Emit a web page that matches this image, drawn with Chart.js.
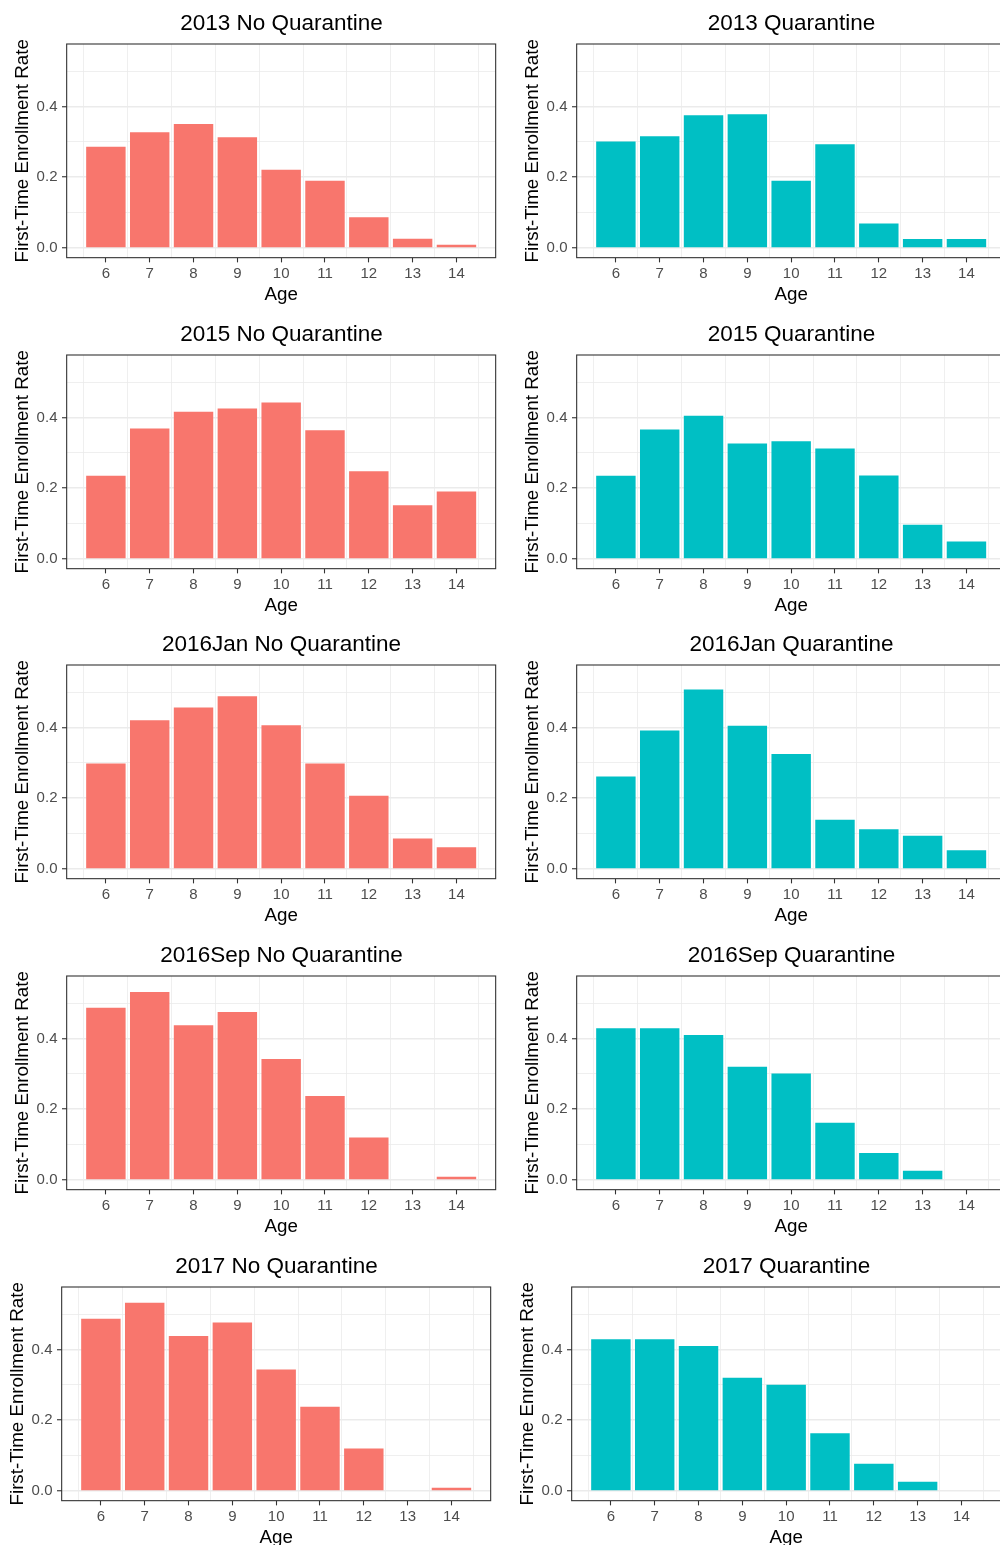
<!DOCTYPE html>
<html>
<head>
<meta charset="utf-8">
<title>First-Time Enrollment Rate by Age</title>
<script src="https://cdn.jsdelivr.net/npm/chart.js@4.4.1/dist/chart.umd.min.js"></script>
<style>
  html, body { margin: 0; padding: 0; background: #ffffff; }
  body { width: 1000px; height: 1545px; overflow: hidden; position: relative; }
  canvas { position: absolute; }
</style>
</head>
<body>
<script>
// ---- data -------------------------------------------------------------
const ages = [6, 7, 8, 9, 10, 11, 12, 13, 14];

const rate2013NoQ    = [0.286, 0.327, 0.350, 0.313, 0.221, 0.190, 0.087, 0.026, 0.009];
const rate2013Q      = [0.301, 0.316, 0.375, 0.378, 0.190, 0.293, 0.069, 0.025, 0.025];
const rate2015NoQ    = [0.235, 0.369, 0.416, 0.425, 0.442, 0.364, 0.248, 0.152, 0.191];
const rate2015Q      = [0.235, 0.366, 0.405, 0.326, 0.333, 0.312, 0.236, 0.097, 0.049];
const rate2016JanNoQ = [0.298, 0.420, 0.456, 0.488, 0.406, 0.298, 0.207, 0.086, 0.061];
const rate2016JanQ   = [0.261, 0.391, 0.507, 0.405, 0.325, 0.139, 0.112, 0.094, 0.053];
const rate2016SepNoQ = [0.487, 0.531, 0.437, 0.475, 0.342, 0.237, 0.120, null,  0.009];
const rate2016SepQ   = [0.429, 0.429, 0.410, 0.320, 0.301, 0.162, 0.076, 0.026, null ];
const rate2017NoQ    = [0.487, 0.532, 0.438, 0.476, 0.343, 0.238, 0.120, null,  0.009];
const rate2017Q      = [0.429, 0.429, 0.410, 0.320, 0.300, 0.163, 0.077, 0.026, null ];

const panelTitles = [
  '2013 No Quarantine', '2013 Quarantine',
  '2015 No Quarantine', '2015 Quarantine',
  '2016Jan No Quarantine', '2016Jan Quarantine',
  '2016Sep No Quarantine', '2016Sep Quarantine',
  '2017 No Quarantine', '2017 Quarantine'
];
const panelValues = [
  rate2013NoQ, rate2013Q,
  rate2015NoQ, rate2015Q,
  rate2016JanNoQ, rate2016JanQ,
  rate2016SepNoQ, rate2016SepQ,
  rate2017NoQ, rate2017Q
];

const yMajorTicks = [0, 0.2, 0.4];
const yMinorTicks = [0.1, 0.3, 0.5];
const xMinorTicks = [5.5, 6.5, 7.5, 8.5, 9.5, 10.5, 11.5, 12.5, 13.5, 14.5];

const xTitle = 'Age';
const yTitle = 'First-Time Enrollment Rate';

// shared value range (0 .. 0.549) and bar span, each padded by 5%
const yRange = [0, 0.549];
const xRange = [5.55, 14.45];

// ---- styling ------------------------------------------------------------
const FONT = "'Liberation Sans', Arial, Helvetica, sans-serif";
const FILL_NO_Q = '#F8766D';
const FILL_Q = '#00BFC4';

const CANVAS_W = 563;
const CANVAS_H = 311;
const Y_AXIS_W = 66.67;          // left axis band
const RIGHT_PAD_W = 67.33;       // mirror band so the title centres on the panel
const X_AXIS_H = CANVAS_H - 257.67;

const pad = (r) => [r[0] - 0.05 * (r[1] - r[0]), r[1] + 0.05 * (r[1] - r[0])];
const [yMin, yMax] = pad(yRange);
const [xMin, xMax] = pad(xRange);

const near = (a, b) => Math.abs(a - b) < 1e-9;
const isAge = (v) => ages.some((a) => near(a, v));
const isMajorY = (v) => yMajorTicks.some((m) => near(m, v));

// panel border (drawn above the bars)
const panelFrame = {
  id: 'panelFrame',
  afterDatasetsDraw(chart) {
    const { ctx, chartArea: a } = chart;
    ctx.save();
    ctx.strokeStyle = '#333333';
    ctx.lineWidth = 1.1;
    ctx.strokeRect(a.left, a.top, a.right - a.left, a.bottom - a.top);
    ctx.restore();
  }
};

function makePanel(index) {
  const row = Math.floor(index / 2);
  const col = index % 2;
  const canvas = document.createElement('canvas');
  canvas.width = CANVAS_W;
  canvas.height = CANVAS_H;
  canvas.style.left = (col * 510 - (row === 4 ? 5 : 0)) + 'px';
  canvas.style.top = Math.round(row * 310.7) + 'px';
  document.body.appendChild(canvas);

  const values = panelValues[index];
  const points = ages.map((a, i) => ({ x: a, y: values[i] }));

  new Chart(canvas, {
    type: 'bar',
    data: {
      datasets: [{
        data: points,
        backgroundColor: col === 0 ? FILL_NO_Q : FILL_Q,
        borderWidth: 0,
        // the bar ruler follows the half-step grid ticks: 1.8 half steps = 0.9 age units
        barPercentage: 1.8,
        categoryPercentage: 1,
        xAxisID: 'x',
        yAxisID: 'y'
      }]
    },
    options: {
      responsive: false,
      animation: false,
      devicePixelRatio: 1,
      events: [],
      layout: { padding: 0 },
      plugins: {
        legend: { display: false },
        tooltip: { enabled: false },
        title: {
          display: true,
          text: panelTitles[index],
          color: '#000000',
          font: { family: FONT, size: 22.5, weight: 'normal', lineHeight: 1.2 },
          padding: { top: 10, bottom: 7 }
        }
      },
      scales: {
        x: {
          type: 'linear',
          min: xMin,
          max: xMax,
          offset: false,
          afterBuildTicks: (s) => {
            s.ticks = ages.concat(xMinorTicks).sort((a, b) => a - b).map((v) => ({ value: v }));
          },
          afterFit: (s) => { s.height = X_AXIS_H; },
          border: { display: false },
          grid: {
            offset: false,
            color: (c) => (isAge(c.tick.value) ? 'rgba(0,0,0,0)' : '#EBEBEB'),
            lineWidth: 0.8,
            drawTicks: true,
            tickLength: 4.7,
            tickWidth: 1.1,
            tickColor: (c) => (isAge(c.tick.value) ? '#333333' : 'rgba(0,0,0,0)')
          },
          ticks: {
            autoSkip: false,
            maxRotation: 0,
            padding: 2.6,
            color: '#4D4D4D',
            font: { family: FONT, size: 15 },
            callback: (v) => (isAge(v) ? String(v) : '')
          },
          title: {
            display: true,
            text: xTitle,
            color: '#000000',
            font: { family: FONT, size: 18.75, lineHeight: 1.2 },
            padding: { top: 0, bottom: 5 }
          }
        },
        y: {
          type: 'linear',
          position: 'left',
          min: yMin,
          max: yMax,
          afterBuildTicks: (s) => {
            s.ticks = yMajorTicks.concat(yMinorTicks).sort((a, b) => a - b).map((v) => ({ value: v }));
          },
          afterFit: (s) => { s.width = Y_AXIS_W; },
          border: { display: false },
          grid: {
            color: '#EBEBEB',
            lineWidth: (c) => (isMajorY(c.tick.value) ? 1.5 : 0.8),
            drawTicks: true,
            tickLength: 4.7,
            tickWidth: 1.1,
            tickColor: (c) => (isMajorY(c.tick.value) ? '#333333' : 'rgba(0,0,0,0)')
          },
          ticks: {
            autoSkip: false,
            padding: 4.5,
            color: '#4D4D4D',
            font: { family: FONT, size: 15 },
            callback: (v) => (isMajorY(v) ? v.toFixed(1) : '')
          },
          title: {
            display: true,
            text: yTitle,
            color: '#000000',
            font: { family: FONT, size: 18.75, lineHeight: 1.2 },
            padding: { top: 12, bottom: 0 }
          }
        },
        rightBand: {
          type: 'linear',
          axis: 'y',
          position: 'right',
          display: true,
          afterFit: (s) => { s.width = RIGHT_PAD_W; },
          grid: { display: false },
          border: { display: false },
          ticks: { display: false }
        }
      }
    },
    plugins: [panelFrame]
  });
}

for (let i = 0; i < panelTitles.length; i++) makePanel(i);
</script>
</body>
</html>
